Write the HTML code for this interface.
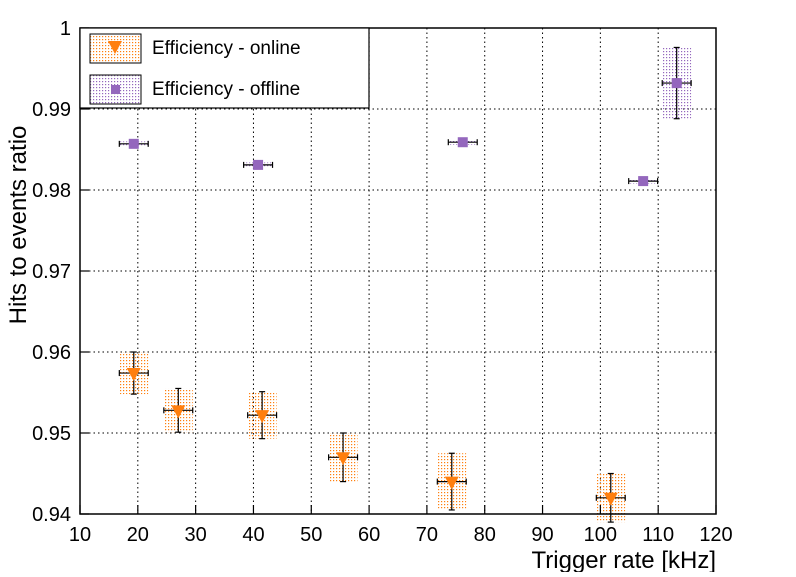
<!DOCTYPE html>
<html><head><meta charset="utf-8"><style>
body{margin:0;background:#fff}
text{font-family:"Liberation Sans",sans-serif;fill:#000}
</style></head><body>
<svg id="chart" width="796" height="572" viewBox="0 0 796 572" xmlns="http://www.w3.org/2000/svg">
<defs>
<pattern id="po" width="3" height="3" patternUnits="userSpaceOnUse"><rect width="1.2" height="1.2" fill="#ff7f0e"/></pattern>
<pattern id="pp" width="3" height="3" patternUnits="userSpaceOnUse"><rect width="1.2" height="1.2" fill="#9467bd"/></pattern>
</defs>
<g id="grid"></g>
<g id="marks"></g>
<rect x="80" y="28" width="636" height="486" fill="none" stroke="#000" stroke-width="1.5"/>
<g id="axes"></g>
<g>
<rect x="80" y="28" width="289" height="80" fill="#fff" stroke="#000" stroke-width="1.2"/>
<g>
<rect x="90" y="34" width="51" height="29" fill="url(#po)" stroke="#000"/>
<path d="M108,41 L122,41 L115,54 Z" fill="#ff7f0e"/>
<text x="152" y="54" font-size="19">Efficiency - online</text></g>
<g>
<rect x="90" y="75" width="51" height="29" fill="url(#pp)" stroke="#000"/>
<rect x="111" y="85" width="9" height="9" fill="#9467bd"/>
<text x="152" y="95" font-size="19">Efficiency - offline</text></g>
</g>
<text x="716" y="568" font-size="24" text-anchor="end">Trigger rate [kHz]</text>
<text transform="translate(26,225) rotate(-90)" font-size="24" text-anchor="middle">Hits to events ratio</text>
</svg>
<script>
const xTicks=[10,20,30,40,50,60,70,80,90,100,110,120];
const yTicks=[0.94,0.95,0.96,0.97,0.98,0.99,1];
const yTickLabels=["0.94","0.95","0.96","0.97","0.98","0.99","1"];
const onlineX=[19.3,27,41.5,55.5,74.3,101.8];
const onlineXErr=[2.5,2.5,2.5,2.5,2.5,2.5];
const onlineY=[0.9574,0.9528,0.9522,0.947,0.944,0.942];
const onlineYErr=[0.0026,0.0027,0.0029,0.003,0.0035,0.003];
const offlineX=[19.3,40.8,76.2,107.4,113.2];
const offlineXErr=[2.5,2.5,2.5,2.5,2.5];
const offlineY=[0.9857,0.9831,0.9859,0.9811,0.9932];
const offlineYErr=[0.0003,0.0003,0.0003,0.0003,0.0044];
const X=v=>80+(v-10)*636/110;
const Y=v=>514-(v-0.94)*486/0.06;
const NS="http://www.w3.org/2000/svg";
function mk(parent,tag,attrs){const e=document.createElementNS(NS,tag);for(const k in attrs)e.setAttribute(k,attrs[k]);parent.appendChild(e);return e;}
const grid=document.getElementById('grid'),axes=document.getElementById('axes'),marks=document.getElementById('marks');
xTicks.forEach((t,i)=>{
 if(i>0&&i<xTicks.length-1){const l=mk(grid,'line',{x1:X(t),x2:X(t),y1:28,y2:514,stroke:'#000','stroke-dasharray':'1.5,3'});
 
 }
 const tk=mk(axes,'line',{x1:X(t),x2:X(t),y1:514,y2:505,stroke:'#000','stroke-width':1.2});
 
 
 const tx=mk(axes,'text',{x:X(t),y:541,'font-size':20,'text-anchor':'middle'});tx.textContent=t;
 
 
});
yTicks.forEach((t,i)=>{
 if(i>0&&i<yTicks.length-1){const l=mk(grid,'line',{x1:80,x2:716,y1:Y(t),y2:Y(t),stroke:'#000','stroke-dasharray':'1.5,3'});
 
 }
 const tk=mk(axes,'line',{x1:80,x2:89,y1:Y(t),y2:Y(t),stroke:'#000','stroke-width':1.2});
 
 
 const tx=mk(axes,'text',{x:71,y:Y(t)+7,'font-size':20,'text-anchor':'end'});tx.textContent=yTickLabels[i];
 
 
});
function series(xs,xe,ys,ye,pat,col,tri,name){
 xs.forEach((x,i)=>{
  const g=mk(marks,'g',{});
  
  
  const cx=X(x),cy=Y(ys[i]),x0=X(x-xe[i]),x1=X(x+xe[i]),y0=Y(ys[i]+ye[i]),y1=Y(ys[i]-ye[i]);
  mk(g,'rect',{x:x0,y:y0,width:x1-x0,height:Math.max(y1-y0,3),fill:'url(#'+pat+')'});
  mk(g,'line',{x1:x0,x2:x1,y1:cy,y2:cy,stroke:'#000','stroke-width':1.2});
  mk(g,'line',{x1:x0,x2:x0,y1:cy-3,y2:cy+3,stroke:'#000','stroke-width':1.2});
  mk(g,'line',{x1:x1,x2:x1,y1:cy-3,y2:cy+3,stroke:'#000','stroke-width':1.2});
  if(y1-y0>8){
   mk(g,'line',{x1:cx,x2:cx,y1:y0,y2:y1,stroke:'#000','stroke-width':1.2});
   mk(g,'line',{x1:cx-3,x2:cx+3,y1:y0,y2:y0,stroke:'#000','stroke-width':1.2});
   mk(g,'line',{x1:cx-3,x2:cx+3,y1:y1,y2:y1,stroke:'#000','stroke-width':1.2});
  }
  if(tri) mk(g,'path',{d:`M${cx-7},${cy-5} L${cx+7},${cy-5} L${cx},${cy+8} Z`,fill:col});
  else mk(g,'rect',{x:cx-5,y:cy-5,width:10,height:10,fill:col});
 });
}
series(onlineX,onlineXErr,onlineY,onlineYErr,'po','#ff7f0e',true,'online');
series(offlineX,offlineXErr,offlineY,offlineYErr,'pp','#9467bd',false,'offline');
</script>
</body></html>
